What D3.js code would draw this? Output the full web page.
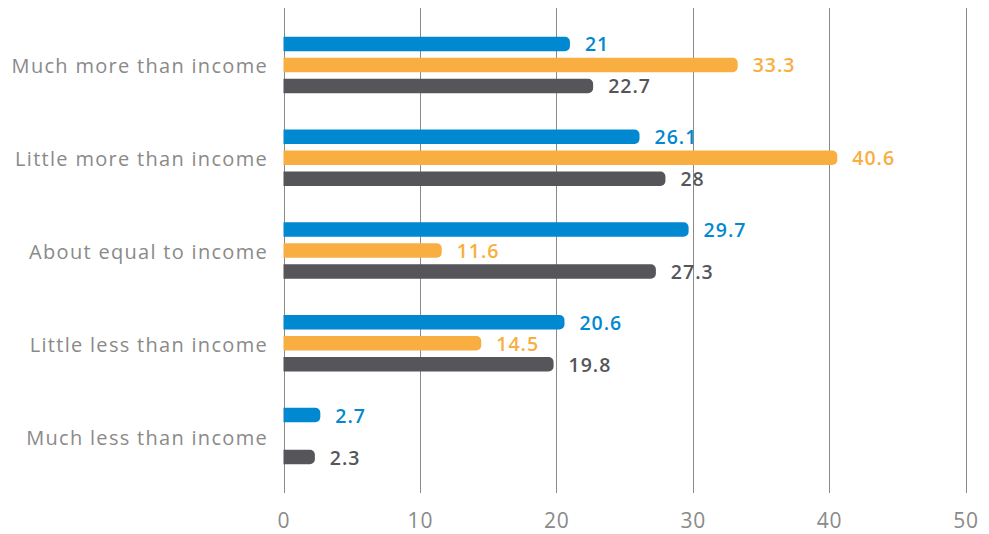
<!DOCTYPE html>
<html>
<head>
<meta charset="utf-8">
<script src="https://cdn.jsdelivr.net/npm/d3@7"></script>
<style>
  html, body { margin: 0; padding: 0; background: #fff; }
  svg { display: block; font-family: "Open Sans", "Lato", sans-serif; }
</style>
</head>
<body>
<svg id="chart" width="989" height="534"></svg>
<script>
const categories = [
  "Much more than income",
  "Little more than income",
  "About equal to income",
  "Little less than income",
  "Much less than income"
];
const seriesNames = ["A", "B", "C"];
const seriesA = [21, 26.1, 29.7, 20.6, 2.7];
const seriesB = [33.3, 40.6, 11.6, 14.5, null];
const seriesC = [22.7, 28, 27.3, 19.8, 2.3];
const xTicks = [0, 10, 20, 30, 40, 50];
const colors = ["#0088d1", "#f9ae41", "#55555a"];

const svg = d3.select("#chart");

const x = d3.scaleLinear().domain([0, 50]).range([283.5, 965.5]);
const y = d3.scaleBand().domain(categories).range([18.6, 482.4]).padding(0);
const sub = d3.scaleBand().domain(seriesNames).range([-28.25, 28.25]).paddingInner(0.31);

// Gridlines
svg.append("g")
  .selectAll("line")
  .data(xTicks)
  .join("line")
  .attr("x1", d => Math.round(x(d)) + 0.5)
  .attr("x2", d => Math.round(x(d)) + 0.5)
  .attr("y1", 8)
  .attr("y2", 493)
  .attr("stroke", "#8a8a8a")
  .attr("stroke-width", 1);

// Axis tick labels
const axis = d3.axisBottom(x).tickValues(xTicks).tickSize(0).tickPadding(0);
const axisG = svg.append("g").attr("transform", "translate(0,527.5)").call(axis);
axisG.select(".domain").remove();
axisG.selectAll("text")
  .attr("fill", "#8a8a8a")
  .attr("font-size", 21)
  .attr("font-weight", 400)
  .attr("font-family", "'Open Sans', Lato, sans-serif")
  .attr("letter-spacing", 0.8)
  .attr("dy", 0);

// Category labels
svg.append("g")
  .selectAll("text")
  .data(categories)
  .join("text")
  .attr("x", 268)
  .attr("y", d => y(d) + y.bandwidth() / 2 + 8.5)
  .attr("text-anchor", "end")
  .attr("fill", "#8a8a8a")
  .attr("font-size", 20)
  .attr("letter-spacing", 1.3)
  .text(d => d);

// Bar with rounded right end
function barPath(x0, x1, yTop, h, r) {
  const w = x1 - x0;
  r = Math.min(r, w, h / 2);
  return `M${x0},${yTop}H${x1 - r}A${r},${r} 0 0 1 ${x1},${yTop + r}` +
         `V${yTop + h - r}A${r},${r} 0 0 1 ${x1 - r},${yTop + h}H${x0}Z`;
}

const data = [];
categories.forEach((c, i) => {
  [seriesA, seriesB, seriesC].forEach((s, j) => {
    if (s[i] != null) data.push({ cat: c, series: seriesNames[j], value: s[i], color: colors[j] });
  });
});

const bars = svg.append("g");
bars.selectAll("path")
  .data(data)
  .join("path")
  .attr("d", d => {
    const yTop = y(d.cat) + y.bandwidth() / 2 + sub(d.series);
    return barPath(x(0), x(d.value), yTop, sub.bandwidth(), 5);
  })
  .attr("fill", d => d.color);

bars.selectAll("text")
  .data(data)
  .join("text")
  .attr("x", d => x(d.value) + 15)
  .attr("y", d => y(d.cat) + y.bandwidth() / 2 + sub(d.series) + sub.bandwidth() / 2 + 7.5)
  .attr("fill", d => d.color)
  .attr("font-size", 19.5)
  .attr("font-weight", 600)
  .attr("letter-spacing", 1)
  .text(d => d.value);
</script>
</body>
</html>
